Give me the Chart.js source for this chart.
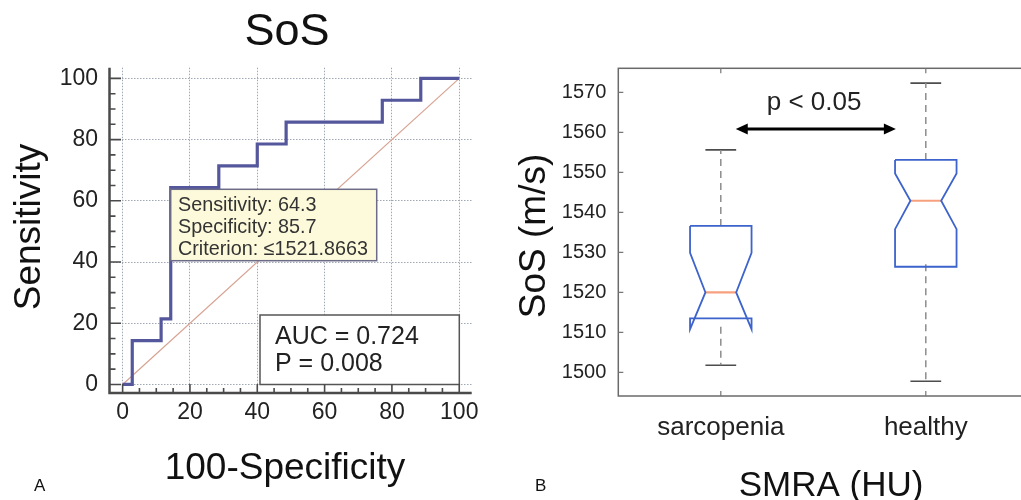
<!DOCTYPE html>
<html><head><meta charset="utf-8">
<script src="https://cdn.jsdelivr.net/npm/chart.js@4.4.1/dist/chart.umd.min.js"></script>
<style>
html,body{margin:0;padding:0;background:#fff;overflow:hidden;width:1021px;height:500px;}
#c1{position:absolute;left:0;top:0;}
#c2{position:absolute;left:505px;top:0;}
</style></head><body>
<canvas id="c1" width="510" height="500"></canvas>
<canvas id="c2" width="535" height="500"></canvas>
<script>
// ---------- Panel A: ROC curve ----------
const rocFpr = [0, 2.86, 11.43, 14.29, 28.57, 40.0, 48.57, 77.14, 88.57, 100];
const rocTpr = [0, 14.29, 21.43, 64.29, 71.43, 78.57, 85.71, 92.86, 100, 100];
const refX = [0, 100];
const refY = [0, 100];
const rocTicks = [0, 20, 40, 60, 80, 100];
const rocStats = ['Sensitivity: 64.3', 'Specificity: 85.7', 'Criterion: \u22641521.8663'];
const aucText = ['AUC = 0.724', 'P = 0.008'];

// ---------- Panel B: notched box plots ----------
const groups = ['sarcopenia', 'healthy'];
const whiskerHigh = [1555.6, 1572.3];
const q3 = [1536.6, 1553.1];
const notchHigh = [1529.9, 1549.7];
const median = [1520.0, 1542.9];
const notchLow = [1510.8, 1535.8];
const q1 = [1513.5, 1526.4];
const whiskerLow = [1501.8, 1497.8];
const sosTicks = [1500, 1510, 1520, 1530, 1540, 1550, 1560, 1570];

const FONT = '"Liberation Sans", Arial, Helvetica, sans-serif';
const TXT = '#222';

// ---------- Chart A ----------
const rocPlugin = {
  id: 'rocExtras',
  afterDatasetsDraw(chart) {
    const ctx = chart.ctx, xs = chart.scales.x, ys = chart.scales.y, a = chart.chartArea;
    ctx.save();
    // criterion box
    const bx = 170.7, by = 189.3, bw = 206, bh = 71.4;
    ctx.fillStyle = '#fdfadb';
    ctx.fillRect(bx, by, bw, bh);
    ctx.strokeStyle = '#6c6c88'; ctx.lineWidth = 1.5;
    ctx.strokeRect(bx, by, bw, bh);
    ctx.fillStyle = '#333';
    ctx.font = '19.8px ' + FONT; ctx.textAlign = 'left'; ctx.textBaseline = 'alphabetic';
    rocStats.forEach((t, i) => ctx.fillText(t, 178, 210.7 + i * 22));
    // AUC box
    const ax = 260, ay = 315, aw = 199.3, ah = 69.5;
    ctx.fillStyle = '#fff'; ctx.fillRect(ax, ay, aw, ah);
    ctx.strokeStyle = '#555'; ctx.lineWidth = 1.5; ctx.strokeRect(ax, ay, aw, ah);
    ctx.fillStyle = TXT; ctx.font = '25px ' + FONT;
    ctx.fillText(aucText[0], 275, 343.5);
    ctx.fillText(aucText[1], 275, 370.5);
    // axes lines
    ctx.strokeStyle = '#4a4a4a'; ctx.lineWidth = 2.5; ctx.lineCap = 'butt';
    ctx.beginPath();
    ctx.moveTo(a.left, a.top); ctx.lineTo(a.left, a.bottom + 1.25);
    ctx.moveTo(a.left - 1.25, a.bottom); ctx.lineTo(a.right, a.bottom);
    ctx.stroke();
    // inward ticks
    ctx.lineWidth = 1.6; ctx.strokeStyle = '#4a4a4a';
    ctx.beginPath();
    for (let v = 0; v <= 100; v += 5) {
      const major = rocTicks.includes(v);
      const py = ys.getPixelForValue(v);
      ctx.moveTo(a.left, py); ctx.lineTo(a.left + (major ? 11.5 : 6), py);
      const px = xs.getPixelForValue(v);
      ctx.moveTo(px, a.bottom); ctx.lineTo(px, a.bottom - (major ? 9 : 5));
    }
    ctx.stroke();
    // titles
    ctx.fillStyle = '#111'; ctx.textAlign = 'center';
    ctx.font = '45px ' + FONT;
    ctx.fillText('SoS', 287, 45);
    ctx.font = '37px ' + FONT;
    ctx.fillText('100-Specificity', 285, 479);
    ctx.save();
    ctx.translate(40, 227); ctx.rotate(-Math.PI / 2);
    ctx.fillText('Sensitivity', 0, 0);
    ctx.restore();
    ctx.font = '17px ' + FONT; ctx.textAlign = 'left';
    ctx.fillText('A', 34, 491);
    ctx.restore();
  }
};

new Chart(document.getElementById('c1'), {
  type: 'scatter',
  data: {
    datasets: [
      {
        data: rocFpr.map((x, i) => ({ x: x, y: rocTpr[i] })),
        showLine: true, stepped: true, borderColor: '#55579c', borderWidth: 3.2,
        pointRadius: 0, fill: false
      },
      {
        data: refX.map((x, i) => ({ x: x, y: refY[i] })),
        showLine: true, borderColor: '#d7a393', borderWidth: 1.2, pointRadius: 0, fill: false
      }
    ]
  },
  options: {
    responsive: false, animation: false, devicePixelRatio: 1,
    layout: { padding: { top: 67.7, right: 38.3, left: 0, bottom: 0 } },
    plugins: { legend: { display: false }, tooltip: { enabled: false }, title: { display: false } },
    scales: {
      x: {
        type: 'linear', min: -3.9, max: 103.7,
        afterBuildTicks: s => { s.ticks = rocTicks.map(v => ({ value: v })); },
        afterFit: s => { s.height = 107; },
        grid: { color: '#9fa8b4', lineWidth: 1, drawTicks: false },
        border: { display: false, dash: [1.5, 1.5] },
        ticks: { font: { size: 23, family: FONT }, color: TXT, padding: 6, maxRotation: 0,
          callback: v => String(v) }
      },
      y: {
        type: 'linear', min: -2.8, max: 103.5,
        afterBuildTicks: s => { s.ticks = rocTicks.map(v => ({ value: v })); },
        afterFit: s => { s.width = 109.5; },
        grid: { color: '#9fa8b4', lineWidth: 1, drawTicks: false },
        border: { display: false, dash: [1.5, 1.5] },
        ticks: { font: { size: 23, family: FONT }, color: TXT, padding: 11.5,
          callback: v => String(v) }
      }
    }
  },
  plugins: [rocPlugin]
});

// ---------- Chart B ----------
const W = 0.15; // half box width in category units
function boxOutline(i) {
  const c = i + 1;
  return [
    { x: c - W, y: q3[i] }, { x: c + W, y: q3[i] }, { x: c + W, y: notchHigh[i] },
    { x: c + W / 2, y: median[i] }, { x: c + W, y: notchLow[i] }, { x: c + W, y: q1[i] },
    { x: c - W, y: q1[i] }, { x: c - W, y: notchLow[i] }, { x: c - W / 2, y: median[i] },
    { x: c - W, y: notchHigh[i] }, { x: c - W, y: q3[i] }
  ];
}
const ds = [];
groups.forEach((g, i) => {
  const c = i + 1;
  ds.push({ data: boxOutline(i), borderColor: '#3d63cc', borderWidth: 1.8 });
  ds.push({ data: [{ x: c - W / 2, y: median[i] }, { x: c + W / 2, y: median[i] }], borderColor: '#f6a07e', borderWidth: 2.2 });
  ds.push({ data: [{ x: c, y: q3[i] }, { x: c, y: whiskerHigh[i] }], borderColor: '#8c8c8c', borderWidth: 1.5, borderDash: [7, 5] });
  ds.push({ data: [{ x: c, y: Math.min(q1[i], notchLow[i]) + 0.6 }, { x: c, y: whiskerLow[i] }], borderColor: '#8c8c8c', borderWidth: 1.5, borderDash: [7, 5] });
  ds.push({ data: [{ x: c - W / 2, y: whiskerHigh[i] }, { x: c + W / 2, y: whiskerHigh[i] }], borderColor: '#4d4d4d', borderWidth: 1.6 });
  ds.push({ data: [{ x: c - W / 2, y: whiskerLow[i] }, { x: c + W / 2, y: whiskerLow[i] }], borderColor: '#4d4d4d', borderWidth: 1.6 });
});
ds.forEach(d => { d.showLine = true; d.pointRadius = 0; d.fill = false; d.tension = 0; });

const arrowFrom = 1.073, arrowTo = 1.854, arrowY = 1560.8;
const pLabel = 'p < 0.05', pLabelX = 1.455, pLabelY = 1565.6;

const boxPlugin = {
  id: 'boxExtras',
  afterDatasetsDraw(chart) {
    const ctx = chart.ctx, xs = chart.scales.x, ys = chart.scales.y, a = chart.chartArea;
    ctx.save();
    // frame
    ctx.strokeStyle = '#6a6a6a'; ctx.lineWidth = 1.5;
    ctx.strokeRect(a.left, a.top, a.right - a.left, a.bottom - a.top);
    // inward ticks
    ctx.lineWidth = 1.2; ctx.strokeStyle = '#777';
    ctx.beginPath();
    sosTicks.forEach(v => {
      const py = ys.getPixelForValue(v);
      ctx.moveTo(a.left, py); ctx.lineTo(a.left + 5, py);
      ctx.moveTo(a.right, py); ctx.lineTo(a.right - 5, py);
    });
    groups.forEach((g, i) => {
      const px = xs.getPixelForValue(i + 1);
      ctx.moveTo(px, a.top); ctx.lineTo(px, a.top + 5);
      ctx.moveTo(px, a.bottom); ctx.lineTo(px, a.bottom - 5);
    });
    ctx.stroke();
    // arrow
    const x1 = xs.getPixelForValue(arrowFrom), x2 = xs.getPixelForValue(arrowTo), y = ys.getPixelForValue(arrowY);
    ctx.strokeStyle = '#000'; ctx.fillStyle = '#000'; ctx.lineWidth = 3;
    ctx.beginPath(); ctx.moveTo(x1 + 8, y); ctx.lineTo(x2 - 8, y); ctx.stroke();
    ctx.beginPath(); ctx.moveTo(x1, y); ctx.lineTo(x1 + 12, y - 5.5); ctx.lineTo(x1 + 12, y + 5.5); ctx.closePath(); ctx.fill();
    ctx.beginPath(); ctx.moveTo(x2, y); ctx.lineTo(x2 - 12, y - 5.5); ctx.lineTo(x2 - 12, y + 5.5); ctx.closePath(); ctx.fill();
    ctx.font = '26px ' + FONT; ctx.textAlign = 'center'; ctx.textBaseline = 'alphabetic'; ctx.fillStyle = TXT;
    ctx.fillText(pLabel, xs.getPixelForValue(pLabelX), ys.getPixelForValue(pLabelY));
    // axis titles
    ctx.fillStyle = '#111';
    ctx.font = '35px ' + FONT;
    ctx.fillText('SMRA (HU)', 831 - 505, 496);
    ctx.font = '37px ' + FONT;
    ctx.save();
    ctx.translate(545 - 505, 236); ctx.rotate(-Math.PI / 2);
    ctx.fillText('SoS (m/s)', 0, 0);
    ctx.restore();
    ctx.font = '17px ' + FONT; ctx.textAlign = 'left';
    ctx.fillText('B', 535 - 505, 491);
    ctx.restore();
  }
};

new Chart(document.getElementById('c2'), {
  type: 'scatter',
  data: { datasets: ds },
  options: {
    responsive: false, animation: false, devicePixelRatio: 1,
    layout: { padding: { top: 68.3, right: 11.7, left: 0, bottom: 0 } },
    plugins: { legend: { display: false }, tooltip: { enabled: false } },
    scales: {
      x: {
        type: 'linear', min: 0.5, max: 2.5,
        afterBuildTicks: s => { s.ticks = groups.map((g, i) => ({ value: i + 1 })); },
        afterFit: s => { s.height = 104; },
        grid: { display: false, drawTicks: false },
        border: { display: false },
        ticks: { font: { size: 26, family: FONT }, color: TXT, padding: 16, maxRotation: 0,
          callback: v => groups[Math.round(v) - 1] || '' }
      },
      y: {
        type: 'linear', min: 1494.1, max: 1576,
        afterBuildTicks: s => { s.ticks = sosTicks.map(v => ({ value: v })); },
        afterFit: s => { s.width = 113.3; },
        grid: { display: false, drawTicks: false },
        border: { display: false },
        ticks: { font: { size: 20, family: FONT }, color: TXT, padding: 12,
          callback: v => String(v) }
      }
    }
  },
  plugins: [boxPlugin]
});
</script>
</body></html>
